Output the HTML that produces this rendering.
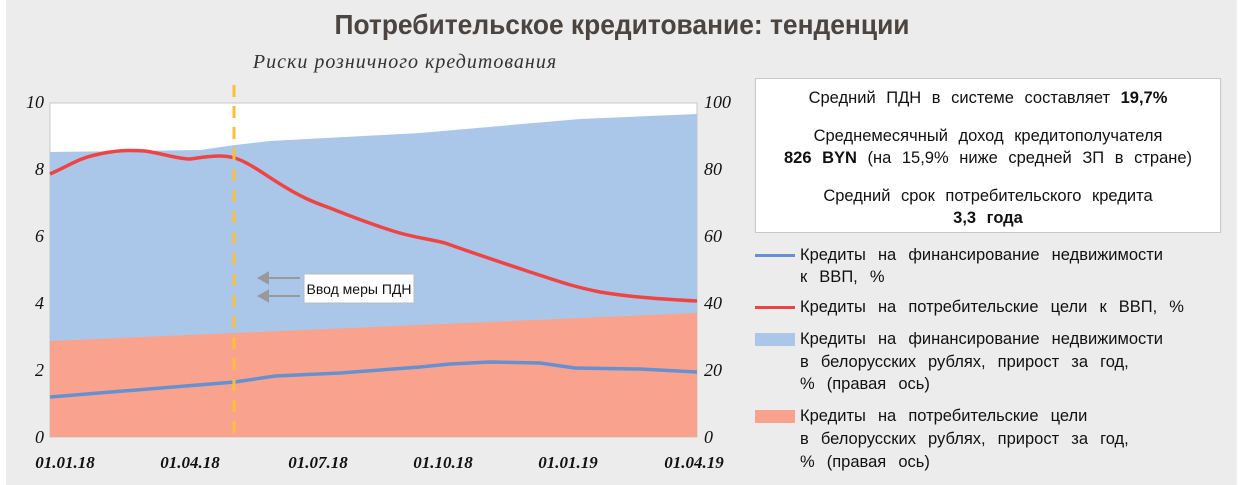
<!DOCTYPE html>
<html><head><meta charset="utf-8"><style>
body{margin:0;width:1241px;height:485px;background:#fff;overflow:hidden;font-family:"Liberation Sans",sans-serif}
#bg{position:absolute;left:6px;top:0;width:1231px;height:485px;background:#ececec}
.t{position:absolute;white-space:nowrap;color:#111;font-size:16.5px;word-spacing:7.5px}
.box{position:absolute;left:755px;top:78px;width:464px;height:153px;background:#fff;border:1px solid #c8c8c8}
.box div{text-align:center;font-size:16.5px;word-spacing:6px;color:#111;position:absolute;left:0;width:464px;white-space:nowrap}
.sw{position:absolute;left:755px;width:40px}
</style></head><body>
<div id="bg"></div>
<svg width="1241" height="485" style="position:absolute;left:0;top:0">
<text x="622" y="34" text-anchor="middle" font-family="Liberation Sans" font-weight="bold" font-size="28" fill="#4a4540" textLength="575" lengthAdjust="spacingAndGlyphs">Потребительское кредитование: тенденции</text>
<text x="405" y="68" text-anchor="middle" font-family="Liberation Serif" font-style="italic" font-size="20" fill="#333" letter-spacing="1">Риски розничного кредитования</text>
<rect x="50" y="103" width="647" height="334" fill="#fff" stroke="#c8c8c8"/>
<polygon fill="#aac7ea" points="50,152 200,150 235,145 270,141 420,133 580,119 697,114 697,437 50,437"/>
<polygon fill="#f9a38e" points="50,341 235,333 697,313 697,437 50,437"/>
<path d="M50,174 C70,165 80,158 95,155 C115,150 130,150 145,151 C165,154 178,159 190,159 C205,157 220,154 235,158 C250,163 265,175 285,187 C300,196 310,201 330,208 C345,214 365,222 390,230 C410,237 425,238 445,243 C470,252 500,262 530,272 C555,280 570,286 600,292 C630,297 660,299 697,301" fill="none" stroke="#ef4444" stroke-width="3.5"/>
<polyline points="50,397 235,382 275,376 340,373 420,367 450,364 490,362 540,363 575,368 640,369 697,372" fill="none" stroke="#6690cf" stroke-width="3.5"/>
<line x1="234" y1="85" x2="234" y2="437" stroke="#fbbf3a" stroke-width="3" stroke-dasharray="12,9"/>
<g fill="#999" stroke="#999" stroke-width="2">
<line x1="265" y1="278" x2="300" y2="278"/><polygon points="259,278 268,273 268,283"/>
<line x1="265" y1="296" x2="300" y2="296"/><polygon points="259,296 268,291 268,301"/>
</g>
<rect x="304" y="274" width="110" height="29" fill="#fff" stroke="#bbb"/>
<text x="359" y="294" text-anchor="middle" font-family="Liberation Sans" font-size="14" fill="#111">Ввод меры ПДН</text>
<g font-family="Liberation Serif" font-style="italic" font-size="18" fill="#111">
<text x="44" y="108" text-anchor="end">10</text><text x="44" y="175" text-anchor="end">8</text><text x="44" y="242" text-anchor="end">6</text><text x="44" y="309" text-anchor="end">4</text><text x="44" y="376" text-anchor="end">2</text><text x="44" y="443" text-anchor="end">0</text>
<text x="704" y="108">100</text><text x="704" y="175">80</text><text x="704" y="242">60</text><text x="704" y="309">40</text><text x="704" y="376">20</text><text x="704" y="443">0</text>
<g text-anchor="middle" font-weight="bold" font-size="17"><text x="65" y="468">01.01.18</text><text x="190" y="468">01.04.18</text><text x="318" y="468">01.07.18</text><text x="443" y="468">01.10.18</text><text x="568" y="468">01.01.19</text><text x="694" y="468">01.04.19</text></g>
</g>
</svg>
<div class="box">
<div style="top:10px">Средний ПДН в системе составляет <b>19,7%</b></div>
<div style="top:48px">Среднемесячный доход кредитополучателя</div>
<div style="top:70px"><b>826 BYN</b> (на 15,9% ниже средней ЗП в стране)</div>
<div style="top:108px">Средний срок потребительского кредита</div>
<div style="top:130px"><b>3,3 года</b></div>
</div>
<div class="sw" style="top:254px;height:3px;background:#6690cf"></div>
<div class="sw" style="top:306px;height:3px;background:#ef4444"></div>
<div class="sw" style="top:333px;height:13px;background:#aac7ea"></div>
<div class="sw" style="top:410px;height:13px;background:#f9a38e"></div>
<div class="t" style="left:800px;top:246px">Кредиты на финансирование недвижимости</div>
<div class="t" style="left:800px;top:268px">к ВВП, %</div>
<div class="t" style="left:800px;top:298px">Кредиты на потребительские цели к ВВП, %</div>
<div class="t" style="left:800px;top:330px">Кредиты на финансирование недвижимости</div>
<div class="t" style="left:800px;top:353px">в белорусских рублях, прирост за год,</div>
<div class="t" style="left:800px;top:375px">% (правая ось)</div>
<div class="t" style="left:800px;top:407px">Кредиты на потребительские цели</div>
<div class="t" style="left:800px;top:430px">в белорусских рублях, прирост за год,</div>
<div class="t" style="left:800px;top:453px">% (правая ось)</div>
</body></html>
